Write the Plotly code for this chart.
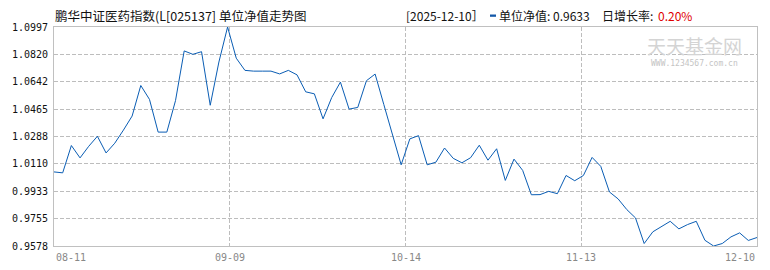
import plotly.graph_objects as go

# ---- data ----
nav = [1.0058, 1.0052, 1.0229, 1.0149, 1.0224, 1.0289, 1.0181, 1.0244, 1.0329, 1.0420,
       1.0618, 1.0528, 1.0316, 1.0316, 1.0520, 1.0842, 1.0820, 1.0837, 1.0490, 1.0770,
       1.0997, 1.0795, 1.0716, 1.0711, 1.0711, 1.0711, 1.0693, 1.0716, 1.0687, 1.0577,
       1.0564, 1.0402, 1.0540, 1.0640, 1.0465, 1.0476, 1.0649, 1.0692, 1.0495, 1.0300,
       1.0104, 1.0272, 1.0293, 1.0104, 1.0121, 1.0213, 1.0146, 1.0117, 1.0150, 1.0231,
       1.0134, 1.0208, 1.0003, 1.0141, 1.0068, 0.9910, 0.9911, 0.9932, 0.9917, 1.0035,
       1.0001, 1.0035, 1.0152, 1.0094, 0.9928, 0.9883, 0.9814, 0.9760, 0.9594, 0.9670,
       0.9706, 0.9738, 0.9689, 0.9717, 0.9738, 0.9615, 0.9578, 0.9594, 0.9637, 0.9663,
       0.9614, 0.9633]
x_idx = list(range(len(nav)))

x_tick_labels = ["08-11", "09-09", "10-14", "11-13", "12-10"]
x_tick_pos = [0, 20.25, 40.5, 60.75, 81]
y_ticks = [0.9578, 0.9755, 0.9933, 1.0110, 1.0288, 1.0465, 1.0642, 1.0820, 1.0997]

title_text = "鹏华中证医药指数(L[025137] 单位净值走势图"
date_text = "[2025-12-10］"
nav_label = "单位净值: 0.9633"
chg_label = "日增长率:"
chg_value = "0.20%"

# ---- layout geometry (pixels) ----
W, H = 770, 270
L, R, T, B = 54, 13, 27, 24
PW = W - L - R
PH = H - T - B


def px(x):
    return (x - L) / PW


def py(y):
    return 1 - (y - T) / PH


BLUE = "#0a5db4"
GRID = "#bdbdbd"
CJK = "Noto Sans CJK SC"
MONO = "DejaVu Sans Mono"

fig = go.Figure()
fig.add_trace(go.Scatter(x=x_idx, y=nav, mode="lines",
                         line=dict(color=BLUE, width=1), hoverinfo="skip",
                         showlegend=False))

fig.update_layout(
    width=W, height=H,
    margin=dict(l=L, r=R, t=T, b=B, pad=0),
    paper_bgcolor="white", plot_bgcolor="white",
    showlegend=False,
    xaxis=dict(range=[x_tick_pos[0], x_tick_pos[-1]], tickvals=x_tick_pos,
               showticklabels=False, showgrid=True, gridcolor=GRID,
               griddash="4px,2px", gridwidth=1, zeroline=False,
               showline=True, linecolor="#c0c0c0", linewidth=1, mirror=True,
               ticks=""),
    yaxis=dict(range=[y_ticks[0], y_ticks[-1]], tickvals=y_ticks,
               ticktext=[f"{v:.4f}" for v in y_ticks],
               tickfont=dict(family=MONO, size=10, color="#111"),
               showgrid=True, gridcolor=GRID, griddash="4px,2px", gridwidth=1,
               zeroline=False, showline=True, linecolor="#c0c0c0", linewidth=1,
               mirror=True, ticks="", ticklabelstandoff=3),
)

ann = []
# x tick labels
for i, (pos, lab) in enumerate(zip(x_tick_pos, x_tick_labels)):
    anchor = "left" if i == 0 else ("right" if i == len(x_tick_pos) - 1 else "center")
    ann.append(dict(x=pos, xref="x", y=py(257), yref="paper", text=lab,
                    showarrow=False, xanchor=anchor, yanchor="middle",
                    font=dict(family=MONO, size=10, color="#888888")))

# title
ann.append(dict(x=px(53), y=py(15), xref="paper", yref="paper", text=title_text,
                showarrow=False, xanchor="left", yanchor="middle",
                font=dict(family=CJK, size=12.5, color="#111")))
# header right side
ann.append(dict(x=px(404), y=py(15), xref="paper", yref="paper", text=date_text,
                showarrow=False, xanchor="left", yanchor="middle",
                font=dict(family=CJK, size=12, color="#111")))
ann.append(dict(x=px(497), y=py(15), xref="paper", yref="paper", text=nav_label,
                showarrow=False, xanchor="left", yanchor="middle",
                font=dict(family=CJK, size=12, color="#111")))
ann.append(dict(x=px(600), y=py(15), xref="paper", yref="paper", text=chg_label,
                showarrow=False, xanchor="left", yanchor="middle",
                font=dict(family=CJK, size=12, color="#111")))
ann.append(dict(x=px(694), y=py(15), xref="paper", yref="paper", text=chg_value,
                showarrow=False, xanchor="right", yanchor="middle",
                font=dict(family=CJK, size=12, color="#e00000")))
# watermark
ann.append(dict(x=px(694), y=py(45), xref="paper", yref="paper", text="天天基金网",
                showarrow=False, xanchor="center", yanchor="middle",
                font=dict(family=CJK, size=19, color="#d4d4d4")))
ann.append(dict(x=px(694), y=py(64), xref="paper", yref="paper",
                text="WWW.1234567.com.cn",
                showarrow=False, xanchor="center", yanchor="middle",
                font=dict(family=MONO, size=8, color="#c4c4c4")))
fig.update_layout(annotations=ann)

# blue legend marker in header
fig.add_shape(type="rect", xref="paper", yref="paper",
              x0=px(490), x1=px(496), y0=py(16.8), y1=py(14.5),
              fillcolor="#1458a8", line=dict(width=0))

fig.write_html("out.html")
